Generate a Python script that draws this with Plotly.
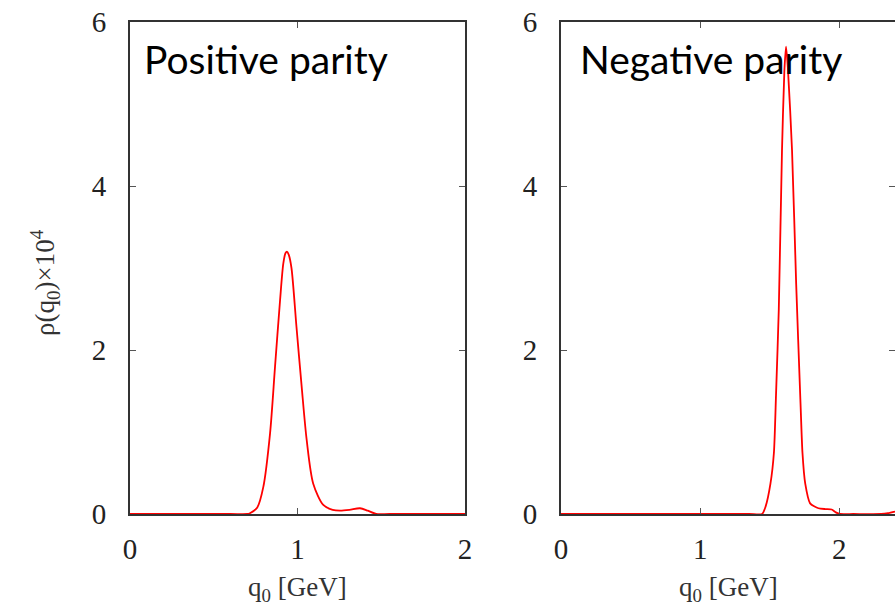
import plotly.graph_objects as go

# Spectral function rho(q0) x 10^4 in the two parity channels
q0_pos = [0.0, 0.60, 0.70, 0.716, 0.76, 0.796, 0.836, 0.866, 0.896, 0.915, 0.928, 0.937,
          0.948, 0.964, 0.994, 1.025, 1.055, 1.094, 1.154, 1.21, 1.254, 1.31, 1.373,
          1.42, 1.47, 1.55, 2.0]
rho_pos = [0.0, 0.0, 0.0, 0.01, 0.08, 0.33, 0.98, 1.80, 2.61, 3.05, 3.18, 3.20,
           3.16, 3.00, 2.28, 1.55, 0.90, 0.37, 0.11, 0.05, 0.04, 0.05, 0.07,
           0.04, 0.0, 0.0, 0.0]

q0_neg = [0.0, 1.35, 1.445, 1.47, 1.505, 1.53, 1.545, 1.565, 1.588, 1.605, 1.617,
          1.63, 1.66, 1.69, 1.72, 1.735, 1.755, 1.79, 1.85, 1.90, 1.945, 1.975,
          2.005, 2.10, 2.30, 2.35, 2.40]
rho_neg = [0.0, 0.0, 0.0, 0.09, 0.37, 0.75, 1.45, 2.5, 4.44, 5.4, 5.70,
           5.45, 4.44, 2.8, 1.4, 0.75, 0.37, 0.13, 0.07, 0.06, 0.055, 0.02,
           0.0, 0.0, 0.0, 0.01, 0.03]

x_ticks = [0, 1, 2]
y_ticks = [0, 2, 4, 6]
panel_titles = ["Positive parity", "Negative parity"]

W, H = 895, 613


def px(x):
    return x / W


def py(y):
    return 1 - y / H


fig = go.Figure()
fig.add_trace(go.Scatter(x=q0_pos, y=rho_pos, mode="lines", xaxis="x", yaxis="y",
                         line=dict(color="#ff0000", width=1.8, shape="spline", smoothing=0.8),
                         showlegend=False))
fig.add_trace(go.Scatter(x=q0_neg, y=rho_neg, mode="lines", xaxis="x2", yaxis="y2",
                         line=dict(color="#ff0000", width=1.8, shape="spline", smoothing=0.6),
                         showlegend=False))

tick_font = dict(family="Liberation Serif", size=29, color="#222")
axis_common = dict(showline=True, linecolor="#333", linewidth=1.8, mirror="ticks",
                   ticks="inside", ticklen=6, tickwidth=1.3, tickcolor="#555",
                   showgrid=False, zeroline=False, tickfont=tick_font, automargin=False)

y_dom = [py(514), py(22)]

fig.update_layout(
    width=W, height=H,
    margin=dict(l=0, r=0, t=0, b=0),
    paper_bgcolor="white", plot_bgcolor="white",
    xaxis=dict(domain=[px(130), px(465)], range=[0, 2], tickvals=x_ticks,
               ticklabelstandoff=8, anchor="y", **axis_common),
    yaxis=dict(domain=y_dom, range=[0, 6], tickvals=y_ticks,
               ticklabelstandoff=16, anchor="x", **axis_common),
    xaxis2=dict(domain=[px(561), 1.0], range=[0, 2.4], tickvals=x_ticks,
                ticklabelstandoff=8, anchor="y2", **axis_common),
    yaxis2=dict(domain=y_dom, range=[0, 6], tickvals=y_ticks,
                ticklabelstandoff=16, anchor="x2", **axis_common),
)

title_font = dict(family="Lato", size=39, color="black")
label_font = dict(family="Liberation Serif", size=27, color="#333")
annotations = [
    dict(text=panel_titles[0], x=px(142), y=py(34), xref="paper", yref="paper",
         xanchor="left", yanchor="top", showarrow=False, font=title_font),
    dict(text=panel_titles[1], x=px(578), y=py(34), xref="paper", yref="paper",
         xanchor="left", yanchor="top", showarrow=False, font=title_font),
    dict(text="q<sub>0</sub> [GeV]", x=px(297), y=py(589), xref="paper", yref="paper",
         xanchor="center", yanchor="middle", showarrow=False, font=label_font),
    dict(text="q<sub>0</sub> [GeV]", x=px(728), y=py(589), xref="paper", yref="paper",
         xanchor="center", yanchor="middle", showarrow=False, font=label_font),
    dict(text="ρ(q<sub>0</sub>)×10<sup>4</sup>", x=px(45), y=py(283), xref="paper",
         yref="paper", xanchor="center", yanchor="middle", textangle=-90,
         showarrow=False, font=label_font),
]
fig.update_layout(annotations=annotations)

fig.write_html("out.html")
